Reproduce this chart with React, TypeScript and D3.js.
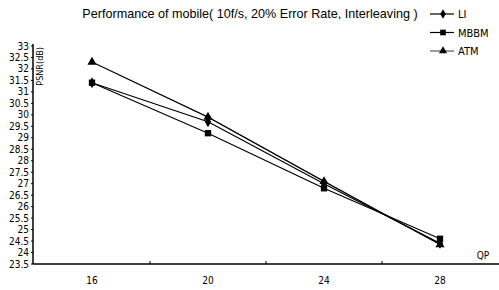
import React, { useEffect, useRef } from 'react';
import * as d3 from 'd3';

const qpLabels = ['16', '20', '24', '28'];
const liValues = [31.4, 29.7, 27.0, 24.4];
const mbbmValues = [31.4, 29.2, 26.8, 24.6];
const atmValues = [32.3, 29.9, 27.1, 24.35];
const seriesNames = ['LI', 'MBBM', 'ATM'];
const yTicks = d3.range(23.5, 33.01, 0.5);

const App = () => {
  const svgRef = useRef<SVGSVGElement>(null);

  useEffect(() => {
    const svg = d3.select(svgRef.current);
    svg.selectAll('*').remove();

    const font = "'Liberation Sans Narrow', 'DejaVu Sans Condensed', 'Liberation Sans', sans-serif";

    const x = d3.scaleBand<string>()
      .domain(qpLabels)
      .range([34, 498])
      .padding(0);
    const y = d3.scaleLinear()
      .domain([23.5, 33])
      .range([264, 46]);

    const cx = (d: string) => (x(d) as number) + x.bandwidth() / 2;

    // title
    svg.append('text')
      .attr('x', 250)
      .attr('y', 18)
      .attr('text-anchor', 'middle')
      .style('font-family', "'Liberation Sans', Arial, sans-serif")
      .style('font-size', '12.6px')
      .text('Performance of mobile( 10f/s, 20% Error Rate, Interleaving )');

    // y axis
    svg.append('line')
      .attr('x1', 33).attr('x2', 33)
      .attr('y1', 44).attr('y2', 264)
      .attr('stroke', '#000').attr('stroke-width', 1.5);
    svg.append('g')
      .selectAll('line')
      .data(yTicks)
      .join('line')
      .attr('x1', 31).attr('x2', 33)
      .attr('y1', d => y(d)).attr('y2', d => y(d))
      .attr('stroke', '#000');
    svg.append('g')
      .selectAll('text')
      .data(yTicks)
      .join('text')
      .attr('x', 29)
      .attr('y', d => y(d) + 3.5)
      .attr('text-anchor', 'end')
      .style('font-family', font)
      .style('font-size', '10px')
      .text(d => d3.format('~g')(d));

    svg.append('text')
      .attr('transform', 'translate(43,47) rotate(-90)')
      .attr('text-anchor', 'end')
      .style('font-family', font)
      .style('font-size', '9px')
      .text('PSNR(dB)');

    // x axis
    svg.append('line')
      .attr('x1', 33).attr('x2', 499)
      .attr('y1', 264).attr('y2', 264)
      .attr('stroke', '#000').attr('stroke-width', 1.5);
    svg.append('g')
      .selectAll('line')
      .data(qpLabels.slice(1))
      .join('line')
      .attr('x1', d => x(d) as number).attr('x2', d => x(d) as number)
      .attr('y1', 261).attr('y2', 264)
      .attr('stroke', '#000');
    svg.append('g')
      .selectAll('text')
      .data(qpLabels)
      .join('text')
      .attr('x', d => cx(d))
      .attr('y', 284)
      .attr('text-anchor', 'middle')
      .style('font-family', font)
      .style('font-size', '10px')
      .text(d => d);
    svg.append('text')
      .attr('x', 483)
      .attr('y', 259)
      .attr('text-anchor', 'middle')
      .style('font-family', font)
      .style('font-size', '10px')
      .text('QP');

    const series = [
      { name: seriesNames[0], values: liValues, shape: d3.symbolDiamond, size: 34 },
      { name: seriesNames[1], values: mbbmValues, shape: d3.symbolSquare, size: 40 },
      { name: seriesNames[2], values: atmValues, shape: d3.symbolTriangle, size: 36 },
    ];

    const line = d3.line<number>()
      .x((_, i) => cx(qpLabels[i]))
      .y(d => y(d));

    series.forEach(s => {
      svg.append('path')
        .attr('d', line(s.values) as string)
        .attr('fill', 'none')
        .attr('stroke', '#000')
        .attr('stroke-width', 1.2);
      svg.append('g')
        .selectAll('path')
        .data(s.values)
        .join('path')
        .attr('transform', (d, i) => `translate(${cx(qpLabels[i])},${y(d)})`)
        .attr('d', d3.symbol().type(s.shape).size(s.size)() as string)
        .attr('fill', '#000');
    });

    // legend
    const lg = svg.append('g');
    series.forEach((s, i) => {
      const ly = 14 + i * 18.5;
      lg.append('line')
        .attr('x1', 430).attr('x2', 454)
        .attr('y1', ly).attr('y2', ly)
        .attr('stroke', '#000')
        .attr('stroke-width', i === 2 ? 0.8 : 1.2);
      lg.append('path')
        .attr('transform', `translate(443,${ly})`)
        .attr('d', d3.symbol().type(s.shape).size(s.size * 0.8)() as string)
        .attr('fill', '#000');
      lg.append('text')
        .attr('x', 458)
        .attr('y', ly + 4)
        .style('font-family', font)
        .style('font-size', '11px')
        .text(s.name);
    });
  }, []);

  return (
    <svg
      ref={svgRef}
      width={499}
      height={290}
      style={{ position: 'absolute', left: 0, top: 0, background: '#fff' }}
    />
  );
};

export default App;
